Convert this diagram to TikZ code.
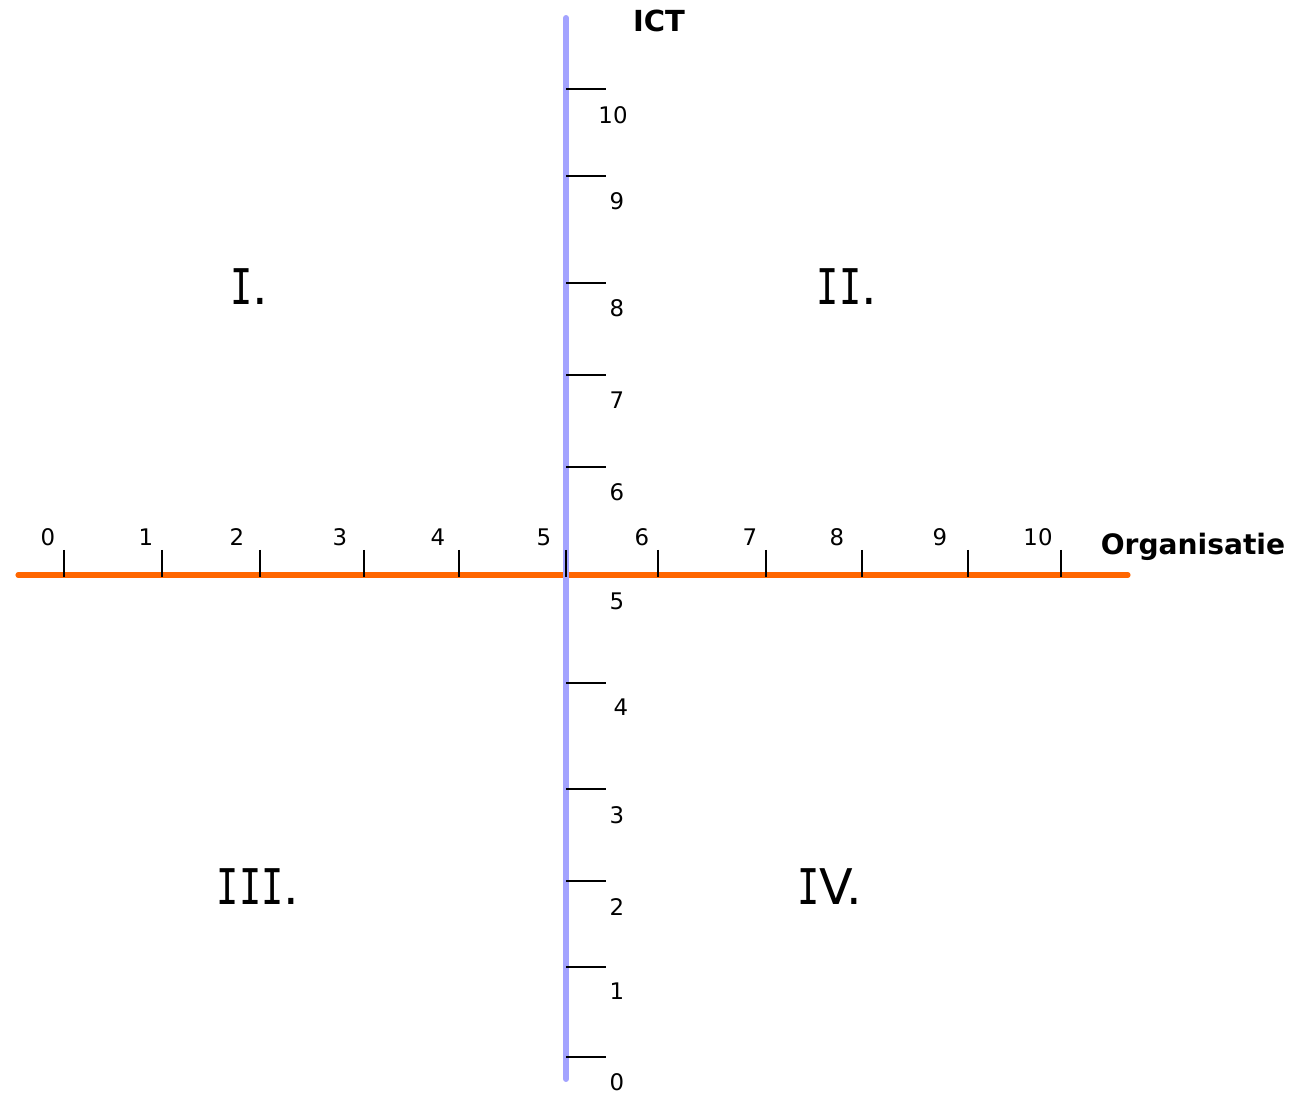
\documentclass[tikz,border=0pt]{standalone}
\usepackage{fontspec}
\setmainfont{DejaVu Sans}
\newfontfamily\romfont[FakeStretch=0.75]{DejaVu Sans Mono}
\newcommand\romI{{\romfont I}}
\usetikzlibrary{positioning}
\definecolor{AxOrange}{HTML}{FF6600}
\definecolor{AxBlue}{HTML}{A3A3FF}
\tikzset{
  ticklabel/.style={inner sep=0pt,font=\fontsize{13pt}{15pt}\selectfont},
  axislabel/.style={inner sep=0pt,font=\fontsize{16.5pt}{19pt}\selectfont\bfseries},
  quadrant/.style={inner sep=0pt,font=\fontsize{28pt}{32pt}\selectfont},
  tickline/.style={black,line width=0.8pt}
}

\begin{document}
\begin{tikzpicture}[x=0.02cm,y=-0.02cm]
  \useasboundingbox (0,0) rectangle (1292,1094);
  % axes
  \coordinate (orgL) at (18,575);
  \coordinate (orgR) at (1128,575);
  \coordinate (ictT) at (566,18);
  \coordinate (ictB) at (566,1079);
  \draw[AxOrange,line width=2.9pt,line cap=round] (orgL) -- (orgR);
  \draw[AxBlue,line width=3.4pt,line cap=round] (ictT) -- (ictB);
  % organisatie scale
  \foreach \x/\lab/\lx in {64/0/48,162/1/146,260/2/237,364/3/340,459/4/438,
      566/5/544,658/6/642,766/7/750,862/8/837,968/9/940,1061/10/1038}{
    \draw[tickline] (\x,550) -- (\x,577);
    \node[ticklabel] (ox\lab) at (\lx,537) {\lab};
  }
  % ict scale
  \foreach \y/\lab/\lx/\ly in {1057/0/617/1082,967/1/617/991,881/2/617/907,
      789/3/617/815,683/4/621/707,467/6/617/492,375/7/617/400,
      283/8/617/308,176/9/617/201,89/10/613/115}{
    \draw[tickline] (566,\y) -- (606,\y);
    \node[ticklabel] (iy\lab) at (\lx,\ly) {\lab};
  }
  \node[ticklabel] (iy5) at (617,601) {5};
  % axis names
  \node[axislabel] (ict) at (659,21) {ICT};
  \node[axislabel,font=\fontsize{16pt}{19pt}\selectfont\bfseries] (org) at (1193,547) {Organisatie};
  % quadrants
  \node[quadrant] (q1) at (249,287) {\romI.};
  \node[quadrant] (q2) at (847,287) {\romI\romI.};
  \node[quadrant] (q3) at (258,887) {\romI\romI\romI.};
  \node[quadrant] (q4) at (830,887) {\romI V.};
\end{tikzpicture}
\end{document}
